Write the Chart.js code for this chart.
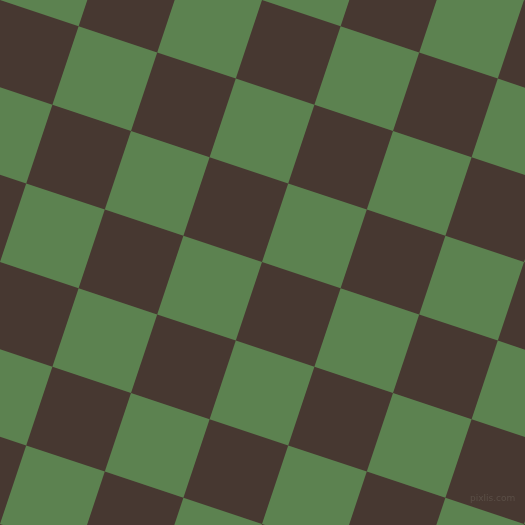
<!DOCTYPE html>
<html>
<head>
<meta charset="utf-8">
<script src="https://cdn.jsdelivr.net/npm/chart.js@4.4.1/dist/chart.umd.min.js"></script>
<style>
  html, body { margin: 0; padding: 0; background: #473831; }
  #wrap { width: 525px; height: 525px; }
  canvas { background: #473831; }
</style>
</head>
<body>
<div id="wrap"><canvas id="board"></canvas></div>
<script>
// lattice of the tilted board: one corner, the two edge steps, and index ranges
const origin = [131, 131];
const stepA = [78.6, 26.2];
const stepB = [-26.2, 78.6];
const colIndex = [-3, -2, -1, 0, 1, 2, 3, 4, 5, 6, 7];
const rowIndex = [-4, -3, -2, -1, 0, 1, 2, 3, 4, 5, 6];
const darkColor = '#473831';
const greenColor = '#5c8250';

function corner(i, j) {
    return {
        x: origin[0] + i * stepA[0] + j * stepB[0],
        y: origin[1] + i * stepA[1] + j * stepB[1]
    };
}

const datasets = [];
colIndex.forEach(function (i) {
    rowIndex.forEach(function (j) {
        if ((i + j) % 2 !== 0) return;   // dark cells are the background
        datasets.push({
            data: [corner(i, j), corner(i + 1, j), corner(i + 1, j + 1), corner(i, j + 1), corner(i, j)],
            showLine: true,
            fill: 'shape',
            backgroundColor: greenColor,
            borderColor: greenColor,
            borderWidth: 0,
            pointRadius: 0,
            tension: 0
        });
    });
});

const watermark = {
    id: 'watermark',
    afterDraw: function (chart) {
        const ctx = chart.ctx;
        ctx.save();
        ctx.font = '9px "DejaVu Sans"';
        ctx.fillStyle = '#5a4e46';
        ctx.textAlign = 'left';
        ctx.textBaseline = 'middle';
        ctx.fillText('pixlis.com', 470, 499);
        ctx.restore();
    }
};

document.addEventListener('DOMContentLoaded', function () {
    const ctx = document.getElementById('board').getContext('2d');
    new Chart(ctx, {
        type: 'scatter',
        data: { datasets: datasets },
        plugins: [watermark],
        options: {
            responsive: true,
            maintainAspectRatio: false,
            animation: false,
            layout: { padding: 0 },
            scales: {
                x: { type: 'linear', min: 0, max: 525, display: false },
                y: { type: 'linear', min: 0, max: 525, reverse: true, display: false }
            },
            plugins: {
                legend: { display: false },
                tooltip: { enabled: false }
            }
        }
    });
});
</script>
</body>
</html>
